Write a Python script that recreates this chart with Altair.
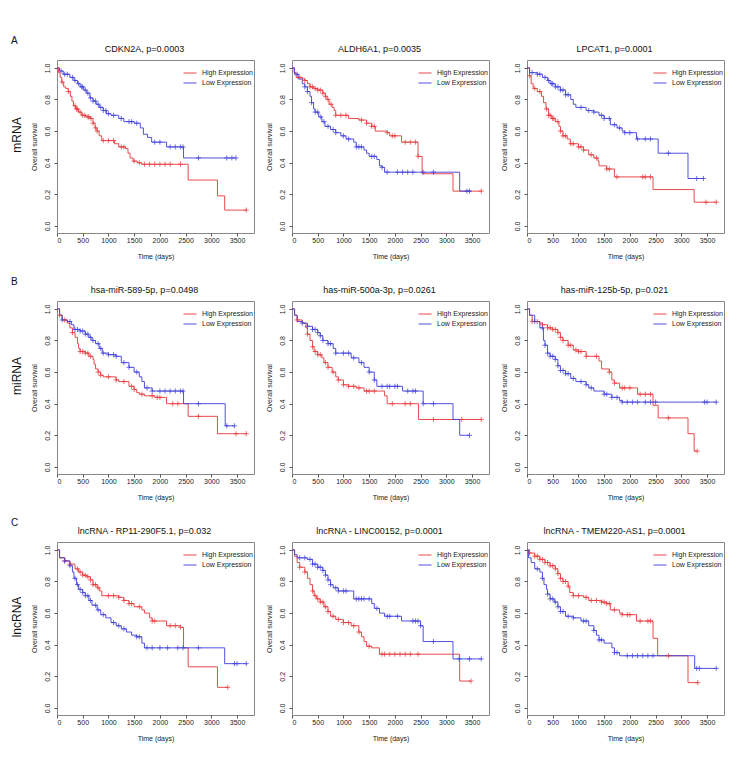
import altair as alt
import pandas as pd

RED = "#E8373A"
BLUE = "#3E3EDB"
GROUPS = ["High Expression", "Low Expression"]
FONT = "Liberation Sans"

# ---------------- Panel 1: CDKN2A ----------------
P1_TITLE = "CDKN2A, p=0.0003"
P1_HIGH_T = [0, 30, 60, 90, 130, 170, 220, 260, 290, 320, 360, 420, 480, 560, 640, 700, 740, 780, 820, 870, 1120, 1200, 1330, 1380, 1420, 1480, 1560, 1640, 2550, 3120, 3260]
P1_HIGH_S = [1.0, 0.97, 0.94, 0.91, 0.88, 0.87, 0.85, 0.82, 0.79, 0.76, 0.74, 0.72, 0.70, 0.69, 0.68, 0.65, 0.62, 0.60, 0.57, 0.54, 0.52, 0.50, 0.49, 0.46, 0.43, 0.41, 0.40, 0.39, 0.29, 0.19, 0.10]
P1_HIGH_END = 3680
P1_HIGH_C = [100, 220, 350, 380, 400, 450, 500, 540, 600, 620, 660, 700, 750, 780, 900, 1000, 1100, 1250, 1300, 1500, 1600, 1700, 1800, 1900, 2000, 2100, 2200, 2400, 3680]
P1_LOW_T = [0, 50, 120, 250, 330, 400, 450, 520, 580, 640, 700, 760, 820, 900, 960, 1050, 1200, 1300, 1500, 1620, 1680, 1760, 1840, 2130, 2460]
P1_LOW_S = [1.0, 0.98, 0.96, 0.94, 0.92, 0.90, 0.88, 0.86, 0.84, 0.81, 0.79, 0.77, 0.75, 0.73, 0.71, 0.70, 0.68, 0.66, 0.65, 0.62, 0.58, 0.56, 0.53, 0.50, 0.43]
P1_LOW_END = 3480
P1_LOW_C = [80, 150, 200, 300, 350, 420, 480, 500, 550, 600, 650, 700, 750, 800, 850, 900, 950, 1000, 1100, 1250, 1400, 1450, 1550, 1900, 2000, 2200, 2300, 2400, 2450, 2750, 3300, 3400, 3480]

# ---------------- Panel 2: ALDH6A1 ----------------
P2_TITLE = "ALDH6A1, p=0.0035"
P2_HIGH_T = [0, 40, 80, 200, 250, 300, 350, 420, 500, 600, 650, 680, 720, 780, 820, 850, 1100, 1300, 1450, 1550, 1620, 1850, 1900, 2130, 2450, 2530, 3130]
P2_HIGH_S = [1.0, 0.97, 0.94, 0.93, 0.92, 0.90, 0.88, 0.87, 0.86, 0.84, 0.82, 0.80, 0.77, 0.75, 0.73, 0.70, 0.68, 0.67, 0.65, 0.63, 0.60, 0.59, 0.57, 0.53, 0.44, 0.33, 0.22]
P2_HIGH_END = 3680
P2_HIGH_C = [150, 250, 350, 400, 450, 500, 550, 600, 650, 700, 760, 850, 950, 1050, 1350, 1450, 1550, 1600, 1850, 1950, 2000, 2200, 2300, 2400, 2450, 3680]
P2_LOW_T = [0, 50, 120, 200, 250, 300, 350, 380, 420, 450, 520, 580, 640, 750, 850, 950, 1050, 1200, 1250, 1400, 1450, 1500, 1650, 1700, 1750, 1800, 3260]
P2_LOW_S = [1.0, 0.96, 0.93, 0.90, 0.88, 0.85, 0.82, 0.78, 0.74, 0.72, 0.69, 0.66, 0.63, 0.61, 0.59, 0.57, 0.55, 0.53, 0.50, 0.48, 0.46, 0.44, 0.42, 0.38, 0.37, 0.34, 0.22]
P2_LOW_END = 3480
P2_LOW_C = [100, 250, 300, 380, 450, 500, 560, 620, 700, 800, 850, 1000, 1100, 1250, 1300, 1350, 1550, 1600, 1750, 1850, 2050, 2150, 2250, 2350, 2550, 2750, 3400, 3450]

# ---------------- Panel 3: LPCAT1 ----------------
P3_TITLE = "LPCAT1,  p=0.0001"
P3_HIGH_T = [0, 50, 80, 120, 200, 280, 320, 370, 420, 480, 550, 620, 650, 700, 780, 840, 1000, 1100, 1200, 1300, 1380, 1400, 1550, 1700, 2450, 3250]
P3_HIGH_S = [1.0, 0.95, 0.90, 0.87, 0.85, 0.82, 0.78, 0.74, 0.70, 0.68, 0.66, 0.63, 0.60, 0.57, 0.55, 0.52, 0.50, 0.48, 0.45, 0.43, 0.41, 0.38, 0.36, 0.31, 0.23, 0.15]
P3_HIGH_END = 3680
P3_HIGH_C = [50, 150, 250, 380, 420, 450, 500, 520, 600, 650, 700, 750, 850, 900, 1000, 1050, 1100, 1250, 1350, 1550, 1600, 1750, 2250, 2300, 2400, 3480, 3680]
P3_LOW_T = [0, 50, 200, 300, 400, 450, 550, 650, 750, 850, 900, 950, 1150, 1300, 1400, 1500, 1620, 1750, 1850, 1900, 2130, 2550, 3130]
P3_LOW_S = [1.0, 0.97, 0.96, 0.94, 0.92, 0.90, 0.88, 0.86, 0.83, 0.80, 0.77, 0.75, 0.73, 0.72, 0.70, 0.68, 0.64, 0.62, 0.60, 0.59, 0.55, 0.46, 0.30]
P3_LOW_END = 3430
P3_LOW_C = [100, 200, 250, 350, 420, 480, 500, 550, 600, 650, 700, 750, 800, 1050, 1200, 1300, 1450, 1500, 1600, 1700, 1800, 1900, 2000, 2150, 2300, 2400, 2750, 3300, 3430]

# ---------------- Panel 4: hsa-miR-589-5p ----------------
P4_TITLE = "hsa-miR-589-5p, p=0.0498"
P4_HIGH_T = [0, 50, 100, 200, 250, 300, 350, 400, 420, 450, 550, 620, 700, 720, 750, 800, 850, 900, 1150, 1200, 1400, 1500, 1550, 1600, 1700, 1900, 2130, 2550, 3120]
P4_HIGH_S = [1.0, 0.96, 0.93, 0.91, 0.88, 0.85, 0.82, 0.78, 0.75, 0.73, 0.72, 0.70, 0.68, 0.65, 0.62, 0.60, 0.58, 0.57, 0.55, 0.54, 0.51, 0.49, 0.47, 0.46, 0.45, 0.44, 0.40, 0.32, 0.21]
P4_HIGH_END = 3680
P4_HIGH_C = [50, 150, 300, 450, 500, 550, 600, 650, 800, 850, 1000, 1150, 1300, 1450, 1500, 1650, 1850, 1950, 2000, 2250, 2350, 2750, 3480, 3680]
P4_LOW_T = [0, 50, 100, 200, 280, 330, 450, 550, 620, 680, 750, 820, 880, 1000, 1150, 1250, 1400, 1500, 1600, 1650, 1700, 1850, 2460, 3270]
P4_LOW_S = [1.0, 0.96, 0.93, 0.92, 0.90, 0.87, 0.86, 0.84, 0.82, 0.80, 0.78, 0.75, 0.72, 0.71, 0.70, 0.66, 0.63, 0.60, 0.57, 0.54, 0.50, 0.48, 0.40, 0.26]
P4_LOW_END = 3450
P4_LOW_C = [100, 250, 350, 400, 450, 500, 550, 600, 650, 700, 800, 850, 900, 1000, 1100, 1150, 1300, 1400, 1550, 1750, 1850, 2000, 2100, 2200, 2300, 2400, 2450, 2750, 3300, 3450]

# ---------------- Panel 5: has-miR-500a-3p ----------------
P5_TITLE = "has-miR-500a-3p, p=0.0261"
P5_HIGH_T = [0, 50, 100, 200, 270, 300, 350, 400, 430, 500, 580, 620, 700, 780, 850, 900, 1000, 1100, 1250, 1400, 1800, 1850, 2460]
P5_HIGH_S = [1.0, 0.96, 0.93, 0.91, 0.88, 0.84, 0.80, 0.76, 0.73, 0.71, 0.69, 0.66, 0.63, 0.60, 0.57, 0.55, 0.52, 0.51, 0.50, 0.48, 0.45, 0.40, 0.30]
P5_HIGH_END = 3680
P5_HIGH_C = [100, 300, 400, 450, 500, 550, 650, 700, 800, 900, 1000, 1100, 1200, 1300, 1450, 1500, 1600, 1950, 2200, 2300, 2750, 3300, 3680]
P5_LOW_T = [0, 50, 100, 200, 300, 400, 500, 550, 600, 700, 800, 850, 1150, 1300, 1400, 1500, 1600, 1650, 2150, 2550, 3130, 3260]
P5_LOW_S = [1.0, 0.96, 0.92, 0.91, 0.89, 0.87, 0.85, 0.83, 0.80, 0.78, 0.75, 0.72, 0.69, 0.66, 0.63, 0.60, 0.55, 0.51, 0.48, 0.40, 0.30, 0.20]
P5_LOW_END = 3460
P5_LOW_C = [200, 300, 400, 450, 500, 550, 600, 700, 750, 850, 1000, 1100, 1200, 1350, 1500, 1600, 1750, 1850, 1900, 2000, 2050, 2250, 2350, 2400, 2550, 2750, 3450]

# ---------------- Panel 6: has-miR-125b-5p ----------------
P6_TITLE = "has-miR-125b-5p,  p=0.021"
P6_HIGH_T = [0, 50, 100, 250, 300, 400, 500, 600, 650, 700, 800, 900, 1000, 1150, 1400, 1450, 1600, 1650, 1700, 1800, 2150, 2450, 2550, 3130, 3250]
P6_HIGH_S = [1.0, 0.96, 0.92, 0.91, 0.90, 0.88, 0.87, 0.85, 0.82, 0.80, 0.77, 0.74, 0.73, 0.70, 0.67, 0.62, 0.60, 0.55, 0.53, 0.50, 0.46, 0.39, 0.31, 0.21, 0.10]
P6_HIGH_END = 3310
P6_HIGH_C = [100, 200, 300, 400, 450, 500, 550, 600, 650, 700, 800, 850, 950, 1000, 1050, 1150, 1350, 1600, 1700, 1850, 1900, 2000, 2200, 2300, 2400, 2750, 3310]
P6_LOW_T = [0, 50, 150, 250, 320, 350, 400, 450, 550, 600, 650, 750, 850, 950, 1150, 1200, 1300, 1500, 1650, 1800, 1850]
P6_LOW_S = [1.0, 0.96, 0.92, 0.88, 0.80, 0.77, 0.72, 0.70, 0.68, 0.64, 0.61, 0.59, 0.56, 0.54, 0.52, 0.50, 0.48, 0.46, 0.44, 0.42, 0.41]
P6_LOW_END = 3680
P6_LOW_C = [150, 300, 350, 400, 450, 500, 550, 600, 650, 700, 750, 800, 900, 1050, 1150, 1250, 1500, 1550, 1650, 1750, 1850, 1950, 2050, 2150, 2300, 2400, 2500, 3450, 3500, 3680]

# ---------------- Panel 7: lncRNA - RP11-290F5.1 ----------------
P7_TITLE = "lncRNA - RP11-290F5.1, p=0.032"
P7_HIGH_T = [0, 50, 150, 250, 350, 420, 500, 580, 650, 700, 780, 830, 870, 1200, 1300, 1400, 1500, 1650, 1700, 1800, 1850, 2130, 2400, 2460, 2550, 3120]
P7_HIGH_S = [1.0, 0.95, 0.93, 0.91, 0.88, 0.86, 0.84, 0.83, 0.81, 0.78, 0.76, 0.74, 0.71, 0.70, 0.68, 0.66, 0.64, 0.62, 0.60, 0.57, 0.55, 0.52, 0.51, 0.38, 0.26, 0.13]
P7_HIGH_END = 3320
P7_HIGH_C = [150, 250, 400, 450, 500, 550, 600, 650, 700, 750, 800, 1000, 1100, 1200, 1300, 1400, 1450, 1600, 1850, 1900, 2200, 2300, 2400, 3320]
P7_LOW_T = [0, 50, 150, 250, 300, 330, 380, 420, 500, 550, 620, 680, 780, 850, 950, 1050, 1150, 1250, 1350, 1450, 1550, 1650, 1700, 3260]
P7_LOW_S = [1.0, 0.95, 0.93, 0.90, 0.86, 0.82, 0.78, 0.75, 0.73, 0.71, 0.68, 0.65, 0.62, 0.59, 0.57, 0.54, 0.52, 0.50, 0.48, 0.46, 0.45, 0.41, 0.38, 0.28]
P7_LOW_END = 3680
P7_LOW_C = [150, 250, 350, 400, 450, 500, 550, 600, 650, 750, 800, 900, 1100, 1200, 1300, 1550, 1600, 1750, 1850, 2000, 2150, 2350, 2450, 2750, 3450, 3500, 3680]

# ---------------- Panel 8: lncRNA - LINC00152 ----------------
P8_TITLE = "lncRNA - LINC00152, p=0.0001"
P8_HIGH_T = [0, 50, 100, 150, 250, 300, 350, 400, 430, 480, 550, 620, 700, 750, 850, 1000, 1150, 1300, 1350, 1400, 1450, 1550, 1700, 3260]
P8_HIGH_S = [1.0, 0.96, 0.92, 0.89, 0.86, 0.82, 0.78, 0.74, 0.71, 0.69, 0.67, 0.64, 0.61, 0.58, 0.56, 0.54, 0.52, 0.48, 0.45, 0.42, 0.39, 0.38, 0.34, 0.17]
P8_HIGH_END = 3480
P8_HIGH_C = [150, 250, 400, 450, 500, 550, 600, 650, 700, 800, 900, 1000, 1100, 1200, 1300, 1500, 1750, 1800, 1900, 2000, 2100, 2200, 2300, 2450, 3480]
P8_LOW_T = [0, 50, 100, 300, 400, 500, 600, 650, 700, 750, 800, 900, 1200, 1550, 1600, 1700, 1800, 2130, 2500, 2550, 3130]
P8_LOW_S = [1.0, 0.97, 0.95, 0.94, 0.91, 0.89, 0.87, 0.84, 0.81, 0.78, 0.76, 0.74, 0.69, 0.66, 0.63, 0.60, 0.58, 0.55, 0.52, 0.42, 0.31]
P8_LOW_END = 3680
P8_LOW_C = [150, 250, 350, 400, 450, 500, 550, 600, 650, 700, 750, 850, 900, 1000, 1050, 1250, 1300, 1350, 1400, 1500, 1650, 1850, 1900, 2050, 2350, 2400, 2450, 2500, 2750, 3250, 3450, 3680]

# ---------------- Panel 9: lncRNA - TMEM220-AS1 ----------------
P9_TITLE = "lncRNA - TMEM220-AS1, p=0.0001"
P9_HIGH_T = [0, 50, 150, 250, 350, 450, 550, 600, 650, 700, 800, 830, 900, 1100, 1200, 1450, 1550, 1620, 1800, 1850, 2130, 2450, 2540, 3130]
P9_HIGH_S = [1.0, 0.98, 0.96, 0.94, 0.92, 0.90, 0.88, 0.85, 0.82, 0.80, 0.77, 0.73, 0.71, 0.70, 0.68, 0.67, 0.66, 0.62, 0.60, 0.59, 0.55, 0.44, 0.33, 0.16]
P9_HIGH_END = 3320
P9_HIGH_C = [50, 150, 200, 250, 300, 350, 400, 450, 500, 550, 600, 650, 700, 750, 800, 900, 1000, 1150, 1250, 1350, 1450, 1500, 1550, 1600, 1700, 1850, 1950, 2000, 2200, 2350, 2400, 2750, 3320]
P9_LOW_T = [0, 30, 80, 150, 250, 300, 330, 380, 400, 450, 530, 600, 650, 750, 900, 1050, 1200, 1300, 1350, 1400, 1500, 1650, 1700, 1800, 3260]
P9_LOW_S = [1.0, 0.95, 0.92, 0.88, 0.86, 0.82, 0.78, 0.75, 0.72, 0.69, 0.67, 0.64, 0.61, 0.58, 0.57, 0.55, 0.52, 0.49, 0.46, 0.43, 0.41, 0.38, 0.35, 0.33, 0.25]
P9_LOW_END = 3680
P9_LOW_C = [200, 300, 400, 450, 500, 550, 600, 650, 700, 800, 900, 1100, 1150, 1300, 1400, 1450, 1700, 1750, 1950, 2050, 2150, 2250, 2350, 2450, 3300, 3350, 3680]

ROW_LABELS = ["mRNA", "miRNA", "lncRNA"]
ROW_LETTERS = ["A", "B", "C"]
X_TICKS = [0, 500, 1000, 1500, 2000, 2500, 3000, 3500]
Y_TICKS = [0.0, 0.2, 0.4, 0.6, 0.8, 1.0]

PANELS = [
    (P1_TITLE, (P1_HIGH_T, P1_HIGH_S, P1_HIGH_END, P1_HIGH_C), (P1_LOW_T, P1_LOW_S, P1_LOW_END, P1_LOW_C)),
    (P2_TITLE, (P2_HIGH_T, P2_HIGH_S, P2_HIGH_END, P2_HIGH_C), (P2_LOW_T, P2_LOW_S, P2_LOW_END, P2_LOW_C)),
    (P3_TITLE, (P3_HIGH_T, P3_HIGH_S, P3_HIGH_END, P3_HIGH_C), (P3_LOW_T, P3_LOW_S, P3_LOW_END, P3_LOW_C)),
    (P4_TITLE, (P4_HIGH_T, P4_HIGH_S, P4_HIGH_END, P4_HIGH_C), (P4_LOW_T, P4_LOW_S, P4_LOW_END, P4_LOW_C)),
    (P5_TITLE, (P5_HIGH_T, P5_HIGH_S, P5_HIGH_END, P5_HIGH_C), (P5_LOW_T, P5_LOW_S, P5_LOW_END, P5_LOW_C)),
    (P6_TITLE, (P6_HIGH_T, P6_HIGH_S, P6_HIGH_END, P6_HIGH_C), (P6_LOW_T, P6_LOW_S, P6_LOW_END, P6_LOW_C)),
    (P7_TITLE, (P7_HIGH_T, P7_HIGH_S, P7_HIGH_END, P7_HIGH_C), (P7_LOW_T, P7_LOW_S, P7_LOW_END, P7_LOW_C)),
    (P8_TITLE, (P8_HIGH_T, P8_HIGH_S, P8_HIGH_END, P8_HIGH_C), (P8_LOW_T, P8_LOW_S, P8_LOW_END, P8_LOW_C)),
    (P9_TITLE, (P9_HIGH_T, P9_HIGH_S, P9_HIGH_END, P9_HIGH_C), (P9_LOW_T, P9_LOW_S, P9_LOW_END, P9_LOW_C)),
]

W, H = 197, 173
TITLE_OFFSET = 6
LETTER_Y = -19
LETTER_SIZE = 10


def surv_at(times, survs, t):
    val = survs[0]
    for ti, si in zip(times, survs):
        if ti <= t:
            val = si
    return val


def curve_frames(curve, group):
    times, survs, end, cens = curve
    ts = list(times) + [end]
    ss = list(survs) + [survs[-1]]
    line = pd.DataFrame({"t": ts, "s": ss, "grp": group, "ord": range(len(ts))})
    cdf = pd.DataFrame({"t": cens, "s": [surv_at(times, survs, c) for c in cens], "grp": group})
    return line, cdf


def panel(title, high, low, row, col):
    lh, ch = curve_frames(high, GROUPS[0])
    ll, cl = curve_frames(low, GROUPS[1])
    lines = pd.concat([lh, ll], ignore_index=True)
    cens = pd.concat([ch, cl], ignore_index=True)

    xenc = alt.X("t:Q", scale=alt.Scale(domain=[0, 3830], nice=False, zero=False),
                 axis=alt.Axis(values=X_TICKS, title="Time (days)", format="d", labelOverlap=False))
    yenc = alt.Y("s:Q", scale=alt.Scale(domain=[-0.045, 1.05], nice=False, zero=False),
                 axis=alt.Axis(values=Y_TICKS, format=".1f", title="Overall survival", labelOverlap=False,
                               labelAngle=270, labelAlign="center", labelBaseline="bottom"))
    cscale = alt.Scale(domain=GROUPS, range=[RED, BLUE])

    line = alt.Chart(lines).mark_line(interpolate="step-after", strokeWidth=1, opacity=0.9).encode(
        x=xenc, y=yenc,
        color=alt.Color("grp:N", scale=cscale, legend=alt.Legend(
            title=None, orient="none", legendX=W - 71, legendY=6, padding=0, symbolType="stroke",
            symbolSize=169, symbolStrokeWidth=1, labelFontSize=7, labelFont=FONT,
            rowPadding=0, symbolOffset=0, labelOffset=5, labelColor="#222", labelLimit=200)),
        order="ord:Q",
    )
    marks = alt.Chart(cens).mark_point(shape="M-1,0L1,0M0,-1L0,1", filled=False, size=26,
                                      strokeWidth=0.9, opacity=0.8).encode(
        x=xenc, y=yenc,
        color=alt.Color("grp:N", scale=cscale, legend=None),
    )
    layers = [line, marks]
    offset = TITLE_OFFSET
    if col == 0:
        lab = alt.Chart(pd.DataFrame({"label": [ROW_LABELS[row]]})).mark_text(
            angle=270, fontSize=12, font=FONT, color="#111").encode(
            text="label:N", x=alt.value(-40), y=alt.value(75))
        let = alt.Chart(pd.DataFrame({"label": [ROW_LETTERS[row]]})).mark_text(
            fontSize=LETTER_SIZE, font=FONT, color="#111", align="left", baseline="middle").encode(
            text="label:N", x=alt.value(-46), y=alt.value(LETTER_Y))
        layers += [lab, let]
        offset = TITLE_OFFSET + LETTER_Y - LETTER_SIZE // 2
    return alt.layer(*layers).properties(
        width=W, height=H,
        title=alt.TitleParams(title, fontSize=9, fontWeight="normal", font=FONT, dx=-11,
                              offset=offset, anchor="middle", frame="group", color="#111"),
    )


charts = []
for r in range(3):
    for c in range(3):
        t, hi, lo = PANELS[r * 3 + c]
        charts.append(panel(t, hi, lo, r, c))

chart = alt.concat(*charts, columns=3, spacing={"row": 68, "column": 38}, bounds="flush").resolve_scale(
    color="independent"
).resolve_legend(color="independent").properties(
    padding={"left": 2, "top": 27, "right": 5, "bottom": 5}
).configure_view(
    stroke="#888", strokeWidth=1
).configure_axis(
    labelFont=FONT, titleFont=FONT, labelFontSize=7, titleFontSize=7, titleFontWeight="normal",
    labelColor="#222", titleColor="#222", tickColor="#555", tickSize=3, domain=False, grid=False,
).configure_axisX(labelPadding=0, titlePadding=9).configure_axisY(labelPadding=4, titlePadding=6)

chart.save("out.html", embed_options={"renderer": "svg", "actions": False})
